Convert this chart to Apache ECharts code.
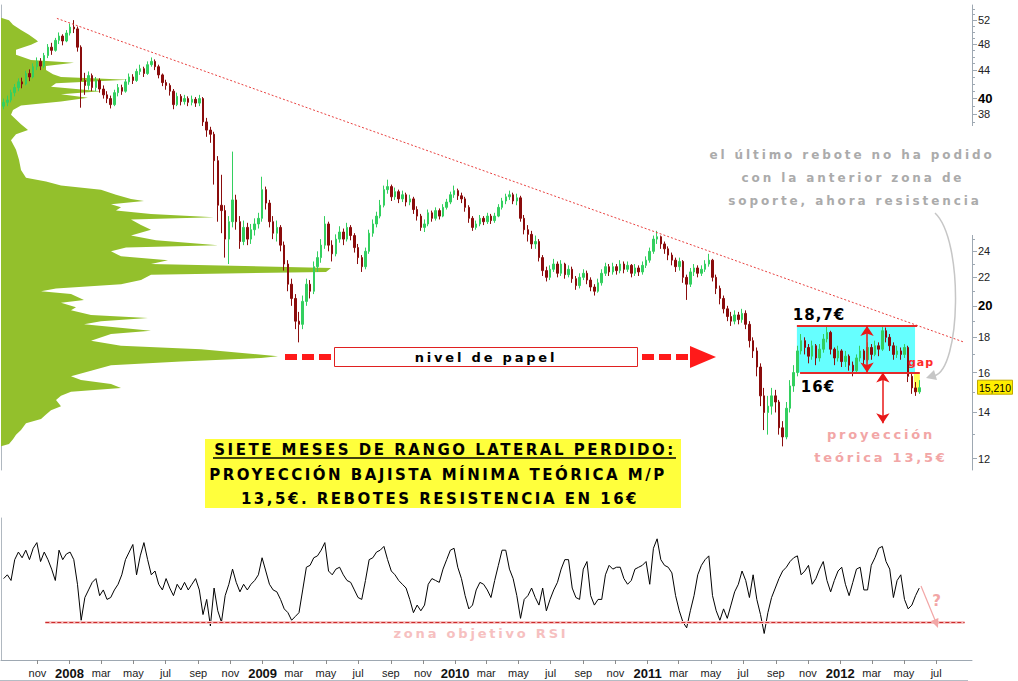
<!DOCTYPE html>
<html><head><meta charset="utf-8">
<script src="https://cdn.jsdelivr.net/npm/echarts@6.0.0/dist/echarts.min.js"></script>
<style>
html,body{margin:0;padding:0;background:#fff;}
#chart{width:1018px;height:681px;}
text[style*="Verdana"]{letter-spacing:2.5px;}
text[style*="Tahoma"]{letter-spacing:2.9px;}
text[style*="Geneva"]{letter-spacing:1px;}
text[style*="Trebuchet"]{letter-spacing:2.8px;}
</style></head><body><div id="chart"></div>
<script>
// ---------- DATA ----------
// weekly candles, first week = Wed 29 Aug 2007; rows: [open, close, low, high]
const firstWeek = '2007-08-29';
const ohlc = [
[39.0,39.5,38.6,40.0],[39.5,39.8,39.0,40.4],[39.8,40.8,39.5,41.2],[40.8,41.5,40.3,42.0],[41.5,42.3,41.0,42.8],
[42.3,42.0,41.4,42.9],[42.0,43.5,41.8,43.9],[43.5,43.0,42.4,44.1],[43.0,44.5,42.8,45.0],[44.5,45.3,44.0,45.9],
[45.3,44.6,44.0,45.8],[44.6,46.2,44.3,46.6],[46.2,47.5,45.8,48.0],[47.5,47.0,46.3,48.2],[47.0,48.6,46.8,49.0],
[48.6,49.3,48.0,49.9],[49.3,48.5,47.8,49.6],[48.5,49.8,48.3,50.3],[49.8,50.8,49.4,51.4],[50.8,50.5,49.8,52.0],
[50.5,47.5,46.8,50.9],[47.5,42.5,38.8,47.8],[42.5,41.8,40.5,43.6],[41.8,43.2,41.2,43.8],[43.2,41.5,41.0,43.5],
[41.5,42.5,41.0,43.0],[42.5,41.3,40.8,42.8],[41.3,40.5,40.0,41.8],[40.5,40.0,39.4,41.0],[40.0,39.2,38.7,40.4],
[39.2,40.8,39.0,41.2],[40.8,41.5,40.3,42.0],[41.5,41.0,40.5,41.9],[41.0,42.3,40.8,42.7],[42.3,43.0,41.9,43.5],
[43.0,42.5,42.0,43.4],[42.5,43.8,42.3,44.2],[43.8,44.2,43.3,44.8],[44.2,43.5,43.0,44.5],[43.5,44.8,43.3,45.3],
[44.8,45.3,44.5,45.9],[45.3,44.5,44.0,45.6],[44.5,43.3,42.8,44.8],[43.3,42.2,41.7,43.5],[42.2,41.8,41.2,42.6],
[41.8,41.0,40.4,42.1],[41.0,39.2,38.6,41.3],[39.2,40.3,39.0,40.8],[40.3,39.6,39.1,40.6],[39.6,40.0,39.2,40.5],
[40.0,39.5,39.0,40.3],[39.5,39.9,39.1,40.4],[39.9,39.4,38.9,40.2],[39.4,40.0,39.0,40.5],[40.0,37.0,36.5,40.2],
[37.0,36.0,35.2,37.5],[36.0,35.5,34.5,36.4],[35.5,32.5,30.0,35.8],[32.5,28.0,26.5,33.0],[28.0,27.5,25.5,31.0],
[27.5,25.0,23.5,28.0],[25.0,26.5,23.0,27.0],[26.5,28.5,26.0,33.5],[28.5,26.5,25.8,29.0],[26.5,24.8,24.2,27.0],
[24.8,26.0,24.5,26.6],[26.0,25.0,24.5,26.4],[25.0,25.8,24.6,26.3],[25.8,26.3,25.3,26.8],[26.3,26.8,25.9,27.3],
[26.8,29.5,26.5,30.8],[29.5,28.2,27.6,29.8],[28.2,26.5,26.0,28.5],[26.5,25.5,25.0,27.0],[25.5,26.0,24.8,26.6],
[26.0,24.5,24.0,26.2],[24.5,23.0,22.5,24.8],[23.0,21.5,21.0,23.3],[21.5,20.5,20.0,21.9],[20.5,19.0,18.5,20.8],
[19.0,18.8,17.7,19.6],[18.8,20.3,18.5,20.7],[20.3,21.5,20.0,21.9],[21.5,21.0,20.5,21.8],[21.0,22.8,20.8,23.2],
[22.8,23.5,22.4,24.0],[23.5,24.5,23.1,25.0],[24.5,26.3,24.2,27.0],[26.3,24.5,24.0,26.5],[24.5,23.8,23.2,24.9],
[23.8,25.0,23.6,25.4],[25.0,25.6,24.7,26.1],[25.6,25.0,24.5,25.9],[25.0,26.0,24.8,26.4],[26.0,25.3,24.9,26.2],
[25.3,24.3,23.9,25.5],[24.3,23.5,23.0,24.6],[23.5,22.8,22.4,23.7],[22.8,24.0,22.6,24.3],[24.0,25.5,23.8,25.8],
[25.5,26.3,25.2,26.7],[26.3,27.0,26.0,27.4],[27.0,28.0,26.8,28.5],[28.0,29.5,27.8,29.9],[29.5,29.8,29.1,30.5],
[29.8,28.8,28.4,30.0],[28.8,29.3,28.5,29.7],[29.3,28.6,28.2,29.5],[28.6,29.0,28.3,29.4],[29.0,28.3,27.9,29.2],
[28.3,28.6,28.0,29.0],[28.6,27.6,27.2,28.8],[27.6,27.0,26.6,27.9],[27.0,26.0,25.7,27.2],[26.0,26.3,25.6,26.7],
[26.3,27.3,26.1,27.6],[27.3,26.8,26.5,27.5],[26.8,27.5,26.6,27.8],[27.5,27.0,26.7,27.7],[27.0,27.8,26.9,28.1],
[27.8,28.3,27.6,28.6],[28.3,29.0,28.1,29.3],[29.0,29.4,28.7,29.9],[29.4,28.9,28.5,29.6],[28.9,28.6,28.2,29.2],
[28.6,27.8,27.4,28.8],[27.8,26.8,26.4,28.0],[26.8,26.0,25.7,27.0],[26.0,26.3,25.8,26.6],[26.3,26.8,26.1,27.1],
[26.8,26.5,26.2,27.0],[26.5,27.0,26.3,27.3],[27.0,26.6,26.3,27.2],[26.6,27.0,26.4,27.3],[27.0,27.8,26.9,28.1],
[27.8,28.4,27.6,28.7],[28.4,28.8,28.1,29.1],[28.8,29.0,28.5,29.4],[29.0,28.4,28.1,29.2],[28.4,28.7,28.0,29.1],
[28.7,26.8,26.5,28.9],[26.8,25.8,25.4,27.1],[25.8,25.4,24.8,26.2],[25.4,24.6,24.2,25.7],[24.6,24.8,24.2,25.3],
[24.8,23.5,23.2,25.0],[23.5,22.5,22.1,23.7],[22.5,22.0,21.7,22.8],[22.0,22.6,21.8,22.9],[22.6,23.0,22.4,23.4],
[23.0,22.3,22.0,23.2],[22.3,23.0,22.1,23.3],[23.0,22.2,21.9,23.1],[22.2,22.6,22.0,22.9],[22.6,21.9,21.6,22.8],
[21.9,21.4,21.1,22.1],[21.4,22.0,21.2,22.3],[22.0,22.3,21.8,22.6],[22.3,21.8,21.5,22.5],[21.8,21.3,21.0,22.0],
[21.3,21.0,20.7,21.5],[21.0,21.6,20.9,21.9],[21.6,22.3,21.4,22.6],[22.3,22.8,22.1,23.1],[22.8,22.4,22.1,23.0],
[22.4,22.8,22.2,23.1],[22.8,22.5,22.2,23.0],[22.5,23.0,22.3,23.3],[23.0,22.6,22.3,23.2],[22.6,22.9,22.4,23.2],
[22.9,22.3,22.0,23.0],[22.3,22.7,22.1,23.0],[22.7,22.4,22.1,22.9],[22.4,22.9,22.2,23.2],[22.9,23.3,22.7,23.6],
[23.3,24.0,23.1,24.3],[24.0,25.0,23.8,25.3],[25.0,25.2,24.6,25.7],[25.2,24.6,24.2,25.3],[24.6,24.2,23.8,24.8],
[24.2,23.7,23.3,24.4],[23.7,23.3,22.9,23.9],[23.3,22.8,22.4,23.5],[22.8,23.2,22.5,23.5],[23.2,22.0,21.6,23.3],
[22.0,21.5,20.4,22.2],[21.5,22.4,21.3,22.7],[22.4,22.7,22.1,23.0],[22.7,22.3,22.0,22.9],[22.3,22.6,22.1,22.9],
[22.6,23.0,22.4,23.3],[23.0,23.3,22.8,23.8],[23.3,22.0,21.7,23.4],[22.0,21.2,20.8,22.2],[21.2,20.5,20.1,21.4],
[20.5,19.8,19.5,20.7],[19.8,19.3,19.0,20.0],[19.3,19.0,18.7,19.6],[19.0,19.4,18.8,19.7],[19.4,19.1,18.8,19.6],
[19.1,19.5,18.9,19.8],[19.5,18.8,18.5,19.7],[18.8,17.8,17.4,19.0],[17.8,17.2,16.8,18.0],[17.2,16.3,15.8,17.4],
[16.3,14.8,14.3,16.5],[14.8,14.0,13.2,15.2],[14.0,14.3,13.0,14.8],[14.3,14.8,13.9,15.2],[14.8,14.5,14.0,15.1],
[14.5,13.3,13.0,14.6],[13.3,12.9,12.5,13.6],[12.9,14.2,12.8,14.5],[14.2,15.3,14.0,15.6],[15.3,16.0,15.0,16.4],
[16.0,17.2,15.8,17.5],[17.2,17.8,17.0,18.2],[17.8,17.4,17.0,18.0],[17.4,16.9,16.5,17.6],[16.9,17.5,16.7,17.8],
[17.5,16.8,16.4,17.6],[16.8,17.3,16.6,17.6],[17.3,17.9,17.1,18.2],[17.9,18.3,17.7,18.7],[18.3,17.3,17.0,18.4],
[17.3,16.8,16.4,17.4],[16.8,17.2,16.6,17.5],[17.2,16.6,16.3,17.3],[16.6,16.9,16.3,17.2],[16.9,16.4,16.1,17.0],
[16.4,16.1,15.8,16.6],[16.1,16.8,16.0,17.0],[16.8,17.2,16.6,17.5],[17.2,16.7,16.4,17.3],[16.7,17.4,16.6,17.7],
[17.4,17.0,16.7,17.6],[17.0,17.5,16.9,17.8],[17.5,17.3,16.9,17.7],[17.3,18.4,17.2,18.7],[18.4,18.0,17.7,18.6],
[18.0,17.5,17.2,18.2],[17.5,17.0,16.7,17.7],[17.0,17.2,16.8,17.5],[17.2,17.0,16.7,17.4],[17.0,17.4,16.8,17.6],
[17.4,15.8,15.5,17.5],[15.8,15.2,14.9,16.0],[15.2,15.0,14.8,15.5],[15.0,15.21,14.9,15.6]
];
// weekly RSI
const rsi = [
53,55,52,63,67,64,68,63,69,72, 62,67,63,58,52,68,63,66,67,63,
50,31,43,47,51,53,44,47,42,43, 47,50,55,63,67,71,55,65,72,63,
55,57,50,47,53,48,44,50,47,51, 47,50,53,47,34,42,28,48,36,30,
44,50,58,51,46,50,47,50,52,55, 64,57,50,47,46,42,37,35,31,33,
35,47,59,60,64,65,68,72,57,55, 58,59,55,52,51,47,43,42,52,63,
64,67,68,70,63,57,55,52,50,48, 42,35,39,36,39,50,53,52,51,58,
63,68,69,59,53,44,37,39,47,51, 50,47,43,52,60,68,68,58,53,44,
32,42,44,48,43,39,48,36,42,47, 51,58,63,63,48,43,42,58,62,44,
39,42,42,55,60,58,59,59,53,50, 52,58,59,60,62,50,69,74,63,60,
59,56,44,36,30,27,36,44,55,60, 63,65,44,36,31,37,32,39,46,50,
57,52,43,55,42,34,24,35,43,48, 53,57,59,62,64,65,55,57,60,50,
53,58,62,52,46,52,57,59,50,44, 51,58,59,47,47,60,64,69,70,62,
58,43,52,55,42,37,39,44,48
];
// volume-at-price profile
const profilePrice = [52.4,52.0,51.2,50.3,49.5,48.7,48.4,47.9,47.1,46.3,45.5,45.1,44.6,44.0,43.4,43.0,42.6,42.1,41.6,41.0,40.6,40.1,39.6,39.1,38.5,37.9,37.3,36.7,36.0,35.5,34.8,33.7,32.6,31.5,30.7,30.3,29.9,29.5,29.0,28.6,28.4,28.1,27.8,27.5,27.2,26.9,26.7,26.2,25.8,25.3,24.9,24.5,24.3,24.0,23.6,23.3,23.0,22.7,22.4,22.2,21.8,21.5,21.2,21.0,20.8,20.4,20.2,19.9,19.7,19.4,19.2,19.0,18.8,18.4,18.2,17.8,17.5,17.3,16.9,16.8,16.6,16.4,16.1,15.8,15.6,15.4,15.2,15.0,14.8,14.6,14.3,14.1,13.9,13.7,13.5,13.2,13.0,12.8,12.6,12.5];
const profileVol   = [0,8,12,20,28,35,37,30,15,15,30,73,45,45,52,60,127,55,50,100,60,87,60,20,12,10,15,20,27,15,10,15,18,20,25,45,60,100,115,130,143,110,120,115,150,213,130,140,150,130,155,217,125,110,120,167,150,330,325,150,140,120,55,40,70,83,60,75,70,90,147,100,83,150,110,90,120,200,277,260,180,110,90,70,80,110,120,70,60,55,60,50,45,40,25,20,15,12,8,0];
// axis ticks
const monthTicks = ['2007-11-01','2008-01-01','2008-03-01','2008-05-01','2008-07-01','2008-09-01','2008-11-01',
'2009-01-01','2009-03-01','2009-05-01','2009-07-01','2009-09-01','2009-11-01','2010-01-01','2010-03-01','2010-05-01',
'2010-07-01','2010-09-01','2010-11-01','2011-01-01','2011-03-01','2011-05-01','2011-07-01','2011-09-01','2011-11-01',
'2012-01-01','2012-03-01','2012-05-01','2012-07-01'];
const monthNames = ['jan','feb','mar','apr','may','jun','jul','aug','sep','oct','nov','dec'];
const yLabelValues = [12,14,16,18,20,22,24,38,40,44,48,52];
const yBoldValues = [20,40];
const yMinorTicks = [13,15,17,19,21,23,25,37,39,41,42,43,45,46,47,49,50,51,53,54];
// annotation levels
const trendLine = [['2007-12-08',52.3],['2012-08-24',17.7]];
const rangeTop = 18.7, rangeBottom = 16.0, projection = 13.5;
const rangeBox = ['2011-10-11','2012-05-22'];
const topLine = ['2011-10-11','2012-05-26'];
const bottomLine = ['2011-10-17','2012-05-31'];
const gapBox = [['2012-05-20',16.0],['2012-05-31',15.0]];
const arrowDates = ['2012-02-21','2012-03-22'];
const rsiLevel = 30, rsiLine = ['2007-11-16','2012-08-24'];

// ---------- BUILD ----------
function ts(s, addDays) {
  const p = s.split('-').map(Number);
  return new Date(p[0], p[1] - 1, p[2] + (addDays || 0)).getTime();
}
const weekDates = ohlc.map((_, i) => ts(firstWeek, 7 * i));
const candleData = ohlc.map((r, i) => [weekDates[i], r[0], r[1], r[2], r[3]]);
const rsiData = rsi.map((v, i) => [weekDates[i], v]);
const profileData = profilePrice.map((p, k) => [profileVol[k], p]);
const lastClose = ohlc[ohlc.length - 1][1];
const monthTickTs = monthTicks.map(s => ts(s));

const dateMin = ts('2007-08-24'), dateMax = ts('2012-09-07');
const priceMin = 11.55, priceMax = 54.7;
const axisCol = '#9ea8b2';

function txt(text, x, y, font, fill) {
  return {type:'text', z:100, silent:true, style:{text:text, x:x, y:y, font:font, fill:fill,
    align:'center', verticalAlign:'middle'}};
}
function rect(x, y, w, h, fill, stroke, lw) {
  return {type:'rect', z:99, silent:true, shape:{x:x, y:y, width:w, height:h},
    style:{fill:fill, stroke:stroke || null, lineWidth:lw || 0}};
}
function poly(points, fill) {
  return {type:'polygon', z:100, silent:true, shape:{points:points}, style:{fill:fill}};
}

const yellowFont = 'bold 15px Verdana, DejaVu Sans';
const greyFont = 'bold 12px Tahoma, DejaVu Sans';
const pinkFont = 'bold 13px Trebuchet MS, DejaVu Sans';
const numFont = 'bold 15px Geneva, DejaVu Sans';

const graphics = [
  rect(968, 126, 8, 109, '#ffffff'),
  {type:'line', z:1, silent:true, shape:{x1:0, y1:680.5, x2:968, y2:680.5}, style:{stroke:'#b4bcc4', lineWidth:1}},
  txt('el último rebote no ha podido', 852, 155, greyFont, '#ababab'),
  txt('con la anterior zona de', 853, 178, greyFont, '#ababab'),
  txt('soporte, ahora resistencia', 855, 201, greyFont, '#ababab'),
  {type:'bezierCurve', z:100, silent:true, shape:{x1:935, y1:213, cpx1:964, cpy1:240, cpx2:961, cpy2:370, x2:934, y2:376},
    style:{stroke:'#c6c6c6', lineWidth:1.5, fill:null}},
  poly([[926,378],[937,380],[934,370]], '#c6c6c6'),
  rect(205, 439, 476, 69, '#ffff3c'),
  txt('SIETE MESES DE RANGO LATERAL PERDIDO:', 445, 450, yellowFont, '#000'),
  {type:'line', z:100, silent:true, shape:{x1:213, y1:458, x2:676, y2:458}, style:{stroke:'#000', lineWidth:1.5}},
  txt('PROYECCIÓN BAJISTA MÍNIMA TEÓRICA M/P', 438, 475, yellowFont, '#000'),
  txt('13,5€. REBOTES RESISTENCIA EN 16€', 440, 499, yellowFont, '#000'),
  rect(334.5, 347.5, 303, 19, '#ffffff', '#e02020', 1),
  txt('nivel de papel', 486, 357, pinkFont, '#000'),
  rect(285, 354, 12, 6, '#ff1a1a'), rect(302, 354, 12, 6, '#ff1a1a'), rect(319, 354, 12, 6, '#ff1a1a'),
  rect(642, 354, 12, 6, '#ff1a1a'), rect(659, 354, 12, 6, '#ff1a1a'), rect(676, 354, 12, 6, '#ff1a1a'),
  poly([[690,346],[716,357],[690,368]], '#ff1a1a'),
  txt('18,7€', 819, 315, numFont, '#000'),
  txt('16€', 818, 387, numFont, '#000'),
  txt('gap', 921, 362, 'bold 11px Geneva, DejaVu Sans', '#ff2a2a'),
  txt('proyección', 881, 434, pinkFont, '#f2a6a6'),
  txt('teórica 13,5€', 881, 457, pinkFont, '#f2a6a6'),
  txt('zona objetivo RSI', 481, 633, pinkFont, '#f6c0c0'),
  txt('?', 938, 601, 'bold 15px Trebuchet MS, DejaVu Sans', '#f2a6a6'),
  {type:'line', z:100, silent:true, shape:{x1:921, y1:586, x2:935, y2:620}, style:{stroke:'#f2a6a6', lineWidth:1.2}},
  poly([[938,628],[938.4,618],[931,621]], '#f2a6a6')
];

const option = {
  animation: false,
  backgroundColor: '#ffffff',
  textStyle: {fontFamily: 'Liberation Sans'},
  grid: [
    {left:1, right:46, top:5, height:465, containLabel:false},
    {left:1, right:46, top:518, height:142, containLabel:false}
  ],
  xAxis: [
    {type:'value', gridIndex:0, min:dateMin, max:dateMax, show:false, axisLine:{onZero:false}, splitLine:{show:false}},
    {type:'value', gridIndex:0, min:0, max:971, show:false, axisLine:{onZero:false}, splitLine:{show:false}},
    {type:'value', gridIndex:1, min:dateMin, max:dateMax,
      axisLine:{show:true, onZero:false, lineStyle:{color:axisCol, width:1}},
      axisTick:{show:true, customValues:monthTickTs, length:4, lineStyle:{color:'#8c8c8c'}},
      axisLabel:{show:true, customValues:monthTickTs, margin:7, color:'#222', fontSize:11,
        formatter: function (v) { const d = new Date(v); const m = d.getMonth();
          return m === 0 ? '{y|' + d.getFullYear() + '}' : monthNames[m]; },
        rich:{y:{fontWeight:'bold', fontSize:13, color:'#111', fontFamily:'Liberation Sans'}}},
      splitLine:{show:false}}
  ],
  yAxis: [
    {type:'log', gridIndex:0, position:'right', min:priceMin, max:priceMax,
      axisLine:{show:true, onZero:false, lineStyle:{color:axisCol}},
      axisTick:{show:true, customValues:yLabelValues, length:5, lineStyle:{color:axisCol}},
      axisLabel:{show:true, customValues:yLabelValues, margin:6, color:'#222', fontSize:11,
        formatter: function (v) { const r = Math.round(v); return yBoldValues.indexOf(r) >= 0 ? '{b|' + r + '}' : String(r); },
        rich:{b:{fontWeight:'bold', fontSize:13, color:'#000', fontFamily:'Liberation Sans'}}},
      splitLine:{show:false}},
    {type:'log', gridIndex:0, position:'right', min:priceMin, max:priceMax,
      axisLine:{show:false, onZero:false},
      axisTick:{show:true, customValues:yMinorTicks, length:3, lineStyle:{color:axisCol}},
      axisLabel:{show:false}, splitLine:{show:false}},
    {type:'value', gridIndex:0, position:'left', min:0, max:1,
      axisLine:{show:true, onZero:false, lineStyle:{color:'#b0b8c0'}},
      axisTick:{show:false}, axisLabel:{show:false}, splitLine:{show:false}},
    {type:'value', gridIndex:1, position:'left', min:10, max:85,
      axisLine:{show:true, onZero:false, lineStyle:{color:'#b0b8c0'}},
      axisTick:{show:false}, axisLabel:{show:false}, splitLine:{show:false}}
  ],
  series: [
    {type:'custom', name:'profile', xAxisIndex:1, yAxisIndex:0, z:1, silent:true, clip:false,
      data: profileData,
      renderItem: function (params, api) {
        if (params.dataIndex !== 0) return null;
        const pts = [api.coord([0, profilePrice[0]])];
        for (let k = 0; k < profilePrice.length; k++) pts.push(api.coord([profileVol[k], profilePrice[k]]));
        pts.push(api.coord([0, profilePrice[profilePrice.length - 1]]));
        return {type:'polygon', shape:{points:pts}, style:{fill:'#93c02c'}};
      }},
    {type:'line', name:'bands', xAxisIndex:0, yAxisIndex:0, z:2, silent:true, symbol:'none',
      data:[[ts(rangeBox[0]), rangeTop]], lineStyle:{opacity:0},
      markArea:{silent:true, data:[
        [{coord:[ts(rangeBox[0]), rangeTop], itemStyle:{color:'#66ffff', opacity:1}}, {coord:[ts(rangeBox[1]), rangeBottom]}],
        [{coord:[ts(gapBox[0][0]), gapBox[0][1]], itemStyle:{color:'#ffff55', opacity:1}}, {coord:[ts(gapBox[1][0]), gapBox[1][1]]}]
      ]}},
    {type:'candlestick', name:'price', xAxisIndex:0, yAxisIndex:0, z:3, silent:true,
      data: candleData, barWidth:2,
      itemStyle:{color:'#33cf5f', color0:'#8a0c0c', borderColor:'#33cf5f', borderColor0:'#8a0c0c', borderWidth:1}},
    {type:'line', name:'trend', xAxisIndex:0, yAxisIndex:0, z:4, silent:true, symbol:'none',
      data: trendLine.map(p => [ts(p[0]), p[1]]), lineStyle:{color:'#e8403f', width:1, type:[2,2]},
      markLine:{silent:true, symbol:['none','none'], symbolSize:10, label:{show:false},
        data:[
          [{coord:[ts(topLine[0]), rangeTop], lineStyle:{color:'#e42a2a', width:2, type:'solid'}}, {coord:[ts(topLine[1]), rangeTop]}],
          [{coord:[ts(bottomLine[0]), rangeBottom], lineStyle:{color:'#e42a2a', width:2, type:'solid'}}, {coord:[ts(bottomLine[1]), rangeBottom]}],
          [{coord:[ts(arrowDates[0]), rangeTop], symbol:'arrow', symbolSize:10, lineStyle:{color:'#e81818', width:1.5, type:'solid'}},
           {coord:[ts(arrowDates[0]), rangeBottom], symbol:'arrow', symbolSize:10}],
          [{coord:[ts(arrowDates[1]), rangeBottom], symbol:'arrow', symbolSize:10, lineStyle:{color:'#e81818', width:1.5, type:'solid'}},
           {coord:[ts(arrowDates[1]), projection], symbol:'arrow', symbolSize:10}]
        ]}},
    {type:'line', name:'RSI', xAxisIndex:2, yAxisIndex:3, z:3, silent:true, symbol:'none',
      data: rsiData, lineStyle:{color:'#000', width:1},
      markLine:{silent:true, symbol:['none','none'], label:{show:false},
        data:[
          [{coord:[ts(rsiLine[0]), rsiLevel], lineStyle:{color:'#f6c4c4', width:3, type:'solid'}}, {coord:[ts(rsiLine[1]), rsiLevel]}],
          [{coord:[ts(rsiLine[0]), rsiLevel], lineStyle:{color:'#cc2a2a', width:1.2, type:[4,2]}}, {coord:[ts(rsiLine[1]), rsiLevel]}]
        ]}}
  ],
  graphic: {elements: graphics}
};

const chart = echarts.init(document.getElementById('chart'), null, {renderer:'svg', width:1018, height:681});
chart.setOption(option);

// last-price tag on the right axis, placed through the price scale
const tagY = chart.convertToPixel({yAxisIndex: 0}, lastClose);
const axisX = chart.convertToPixel({xAxisIndex: 0}, dateMax);
graphics.push(
  {type:'rect', z:100, silent:true, shape:{x:axisX + 5.5, y:tagY - 7.5, width:35, height:14},
    style:{fill:'#ffee00', stroke:'#c0a800', lineWidth:1}},
  {type:'text', z:101, silent:true, style:{text:lastClose.toFixed(3).replace('.', ','), x:axisX + 23, y:tagY,
    font:'10.5px Liberation Sans', fill:'#000', align:'center', verticalAlign:'middle'}}
);
chart.setOption({graphic: {elements: graphics}});
</script></body></html>
